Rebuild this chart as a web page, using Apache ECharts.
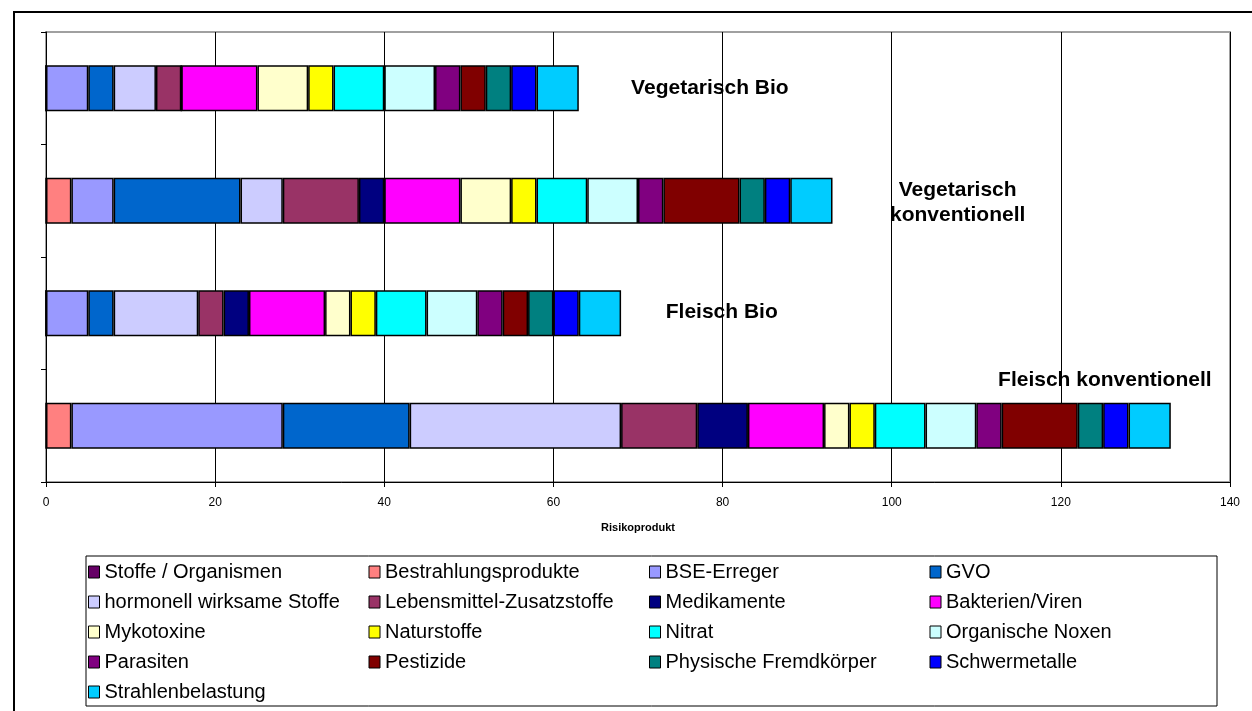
<!DOCTYPE html>
<html>
<head>
<meta charset="utf-8">
<script src="https://cdn.jsdelivr.net/npm/echarts@6/dist/echarts.min.js"></script>
<style>
html,body{margin:0;padding:0;background:#fff;}
#chart{width:1252px;height:711px;}
</style>
</head>
<body>
<div id="chart"></div>
<script>
// Categories, bottom to top
const categories = ['Fleisch konventionell', 'Fleisch Bio', 'Vegetarisch konventionell', 'Vegetarisch Bio'];
const annotationTexts = ['Fleisch konventionell', 'Fleisch Bio', 'Vegetarisch\nkonventionell', 'Vegetarisch Bio'];

// Series names (stack order, left to right)
const seriesNames = ['Stoffe / Organismen', 'Bestrahlungsprodukte', 'BSE-Erreger', 'GVO',
  'hormonell wirksame Stoffe', 'Lebensmittel-Zusatzstoffe', 'Medikamente', 'Bakterien/Viren',
  'Mykotoxine', 'Naturstoffe', 'Nitrat', 'Organische Noxen', 'Parasiten', 'Pestizide',
  'Physische Fremdkörper', 'Schwermetalle', 'Strahlenbelastung'];

// Values per series, in category order (Fleisch konv, Fleisch Bio, Veg konv, Veg Bio)
const stoffeOrganismen = [0, 0, 0, 0];
const bestrahlungsprodukte = [3, 0, 3, 0];
const bseErreger = [25, 5, 5, 5];
const gvo = [15, 3, 15, 3];
const hormonell = [25, 10, 5, 5];
const zusatzstoffe = [9, 3, 9, 3];
const medikamente = [6, 3, 3, 0];
const bakterienViren = [9, 9, 9, 9];
const mykotoxine = [3, 3, 6, 6];
const naturstoffe = [3, 3, 3, 3];
const nitrat = [6, 6, 6, 6];
const organischeNoxen = [6, 6, 6, 6];
const parasiten = [3, 3, 3, 3];
const pestizide = [9, 3, 9, 3];
const physische = [3, 3, 3, 3];
const schwermetalle = [3, 3, 3, 3];
const strahlenbelastung = [5, 5, 5, 5];

const xTicks = [0, 20, 40, 60, 80, 100, 120, 140];

const seriesValues = [stoffeOrganismen, bestrahlungsprodukte, bseErreger, gvo, hormonell,
  zusatzstoffe, medikamente, bakterienViren, mykotoxine, naturstoffe, nitrat, organischeNoxen,
  parasiten, pestizide, physische, schwermetalle, strahlenbelastung];

const colors = ['#660066', '#FF8080', '#9999FF', '#0066CC', '#CCCCFF', '#993366', '#000080',
  '#FF00FF', '#FFFFCC', '#FFFF00', '#00FFFF', '#CCFFFF', '#800080', '#800000', '#008080',
  '#0000FF', '#00CCFF'];

const FONT = '"Liberation Sans", Arial, sans-serif';

// label anchor positions along the value axis (annotation placement)
const annotationX = [125.2, 79.9, 107.8, 78.5];
const annotationOffsetY = [-46, -1, 2, 0];

const chart = echarts.init(document.getElementById('chart'), null, {renderer: 'canvas'});

const series = seriesNames.map((name, i) => ({
  name: name,
  type: 'bar',
  stack: 'total',
  barWidth: 46,
  data: seriesValues[i],
  itemStyle: {color: colors[i], borderColor: '#000', borderWidth: 1.5},
  emphasis: {disabled: true},
  animation: false
}));

series.push({
  name: 'annotations',
  type: 'scatter',
  symbolSize: 1,
  itemStyle: {color: 'rgba(0,0,0,0)'},
  silent: true,
  animation: false,
  z: 10,
  data: categories.map((c, i) => ({
    value: [annotationX[i], c],
    label: {
      show: true,
      position: 'inside',
      formatter: annotationTexts[i],
      offset: [0, annotationOffsetY[i]],
      fontFamily: FONT,
      fontWeight: 'bold',
      fontSize: 21,
      lineHeight: 25,
      color: '#000',
      opacity: 1,
      textBorderWidth: 0,
      align: 'center'
    }
  }))
});

const option = {
  backgroundColor: '#fff',
  animation: false,
  textStyle: {fontFamily: FONT},
  grid: {
    left: 46, right: 22, top: 32, bottom: 229,
    show: true, borderColor: '#a0a0a0', borderWidth: 2, backgroundColor: '#fff'
  },
  xAxis: {
    type: 'value',
    min: xTicks[0], max: xTicks[xTicks.length - 1], interval: 20,
    name: 'Risikoprodukt',
    nameLocation: 'middle',
    nameGap: 40,
    nameTextStyle: {fontFamily: FONT, fontWeight: 'bold', fontSize: 11, color: '#000'},
    axisLine: {show: true, lineStyle: {color: '#000', width: 1}},
    axisTick: {show: true, length: 5, lineStyle: {color: '#000'}},
    axisLabel: {fontFamily: FONT, fontSize: 12, color: '#000', margin: 15},
    splitLine: {show: true, lineStyle: {color: '#000', width: 1}}
  },
  yAxis: {
    type: 'category',
    data: categories,
    axisLine: {show: true, lineStyle: {color: '#000', width: 1}},
    axisTick: {show: true, length: 5, lineStyle: {color: '#000'}},
    axisLabel: {show: false},
    splitLine: {show: false}
  },
  legend: {
    data: seriesNames,
    orient: 'horizontal',
    left: 86,
    top: 556,
    width: 1135,
    padding: [6, 17, 4, 2],
    borderColor: '#000',
    borderWidth: 1,
    itemGap: 10,
    itemWidth: 11,
    itemHeight: 12,
    selectedMode: false,
    icon: 'rect',
    itemStyle: {borderColor: '#000', borderWidth: 1},
    textStyle: {fontFamily: FONT, fontSize: 20, color: '#000', width: 254, lineHeight: 20, overflow: 'truncate'}
  },
  graphic: [{
    type: 'rect',
    shape: {x: 14, y: 12, width: 1400, height: 900},
    style: {fill: 'none', stroke: '#000', lineWidth: 2},
    silent: true,
    z: 100
  }],
  series: series
};

chart.setOption(option);
</script>
</body>
</html>
